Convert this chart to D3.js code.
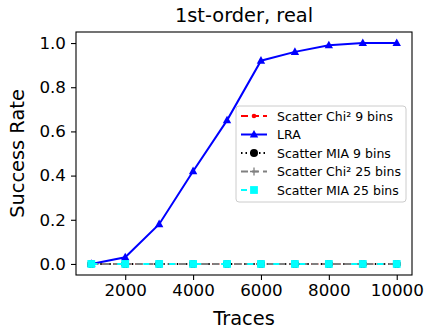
<!DOCTYPE html>
<html><head><meta charset="utf-8">
<script src="https://cdn.jsdelivr.net/npm/d3@7"></script>
<style>body{margin:0;background:#fff}svg{display:block;font-family:"DejaVu Sans",sans-serif}</style>
</head><body><svg id="c" width="425" height="331"></svg>
<script>
const traces = [1000,2000,3000,4000,5000,6000,7000,8000,9000,10000];
const lra = [0,0.03,0.18,0.42,0.65,0.92,0.96,0.99,1.0,1.0];
const chi9 = [0,0,0,0,0,0,0,0,0,0];
const mia9 = [0,0,0,0,0,0,0,0,0,0];
const chi25 = [0,0,0,0,0,0,0,0,0,0];
const mia25 = [0,0,0,0,0,0,0,0,0,0];
const xTicks = [2000,4000,6000,8000,10000];
const yTicks = [0,0.2,0.4,0.6,0.8,1.0];

const series = [
  {name:"Scatter Chi\u00b2 9 bins", vals:chi9, color:"red", dash:"7,4", marker:"dot"},
  {name:"LRA", vals:lra, color:"blue", dash:null, marker:"tri"},
  {name:"Scatter MIA 9 bins", vals:mia9, color:"black", dash:"1.5,3", marker:"circle"},
  {name:"Scatter Chi\u00b2 25 bins", vals:chi25, color:"gray", dash:"7,4", marker:"plus"},
  {name:"Scatter MIA 25 bins", vals:mia25, color:"cyan", dash:"6,20", marker:"square"}
];

const L=76,R=412,T=32,B=275;
const x=d3.scaleLinear().domain([550,10450]).range([L,R]);
const y=d3.scaleLinear().domain([-0.05,1.05]).range([B,T]);
const svg=d3.select("#c");

const gx=svg.append("g").attr("transform",`translate(0,${B})`)
  .call(d3.axisBottom(x).tickValues(xTicks).tickFormat(d3.format("d")).tickSize(5).tickPadding(4));
const gy=svg.append("g").attr("transform",`translate(${L},0)`)
  .call(d3.axisLeft(y).tickValues(yTicks).tickFormat(d3.format(".1f")).tickSize(5).tickPadding(5));
[gx,gy].forEach(g=>{g.select(".domain").remove();g.selectAll("text").attr("font-size",16.7).attr("fill","#000").attr("font-family","DejaVu Sans");g.selectAll("line").attr("stroke","#000").attr("stroke-width",1.1);});

function marker(g,type,cx,cy,color){
  if(type==="dot") g.append("circle").attr("cx",cx).attr("cy",cy).attr("r",2.3).attr("fill",color);
  else if(type==="circle") g.append("circle").attr("cx",cx).attr("cy",cy).attr("r",4).attr("fill",color);
  else if(type==="tri") g.append("path").attr("d",`M${cx},${cy-4.6}L${cx+4.2},${cy+3}L${cx-4.2},${cy+3}Z`).attr("fill",color);
  else if(type==="plus") g.append("path").attr("d",`M${cx-4},${cy}H${cx+4}M${cx},${cy-4}V${cy+4}`).attr("stroke",color).attr("stroke-width",1.3);
  else if(type==="square") g.append("rect").attr("x",cx-3.9).attr("y",cy-3.9).attr("width",7.8).attr("height",7.8).attr("fill",color);
}

const plot=svg.append("g");
series.forEach(s=>{
  const line=d3.line().x((d,i)=>x(traces[i])).y(d=>y(d));
  plot.append("path").attr("d",line(s.vals)).attr("fill","none").attr("stroke",s.color)
    .attr("stroke-width",2).attr("stroke-dasharray",s.dash);
  s.vals.forEach((v,i)=>marker(plot,s.marker,x(traces[i]),y(v),s.color));
});

svg.append("rect").attr("x",L).attr("y",T).attr("width",R-L).attr("height",B-T)
  .attr("fill","none").attr("stroke","#000").attr("stroke-width",1.1);

svg.append("text").attr("x",(L+R)/2).attr("y",22).attr("text-anchor","middle").attr("font-size",19.4).text("1st-order, real");
svg.append("text").attr("x",(L+R)/2).attr("y",325).attr("text-anchor","middle").attr("font-size",19.4).text("Traces");
svg.append("text").attr("transform",`translate(24,${(T+B)/2}) rotate(-90)`).attr("text-anchor","middle").attr("font-size",19.4).text("Success Rate");

// legend
const lg=svg.append("g").attr("transform","translate(236,106)");
lg.append("rect").attr("width",170).attr("height",96).attr("rx",3).attr("fill","#fff").attr("fill-opacity",0.8).attr("stroke","#ccc");
series.forEach((s,i)=>{
  const yy=10+i*18.5;
  lg.append("line").attr("x1",5).attr("x2",31).attr("y1",yy).attr("y2",yy).attr("stroke",s.color).attr("stroke-width",2).attr("stroke-dasharray",s.dash);
  marker(lg,s.marker,18,yy,s.color);
  lg.append("text").attr("x",41).attr("y",yy+4.5).attr("font-size",12.5).text(s.name);
});
</script></body></html>
